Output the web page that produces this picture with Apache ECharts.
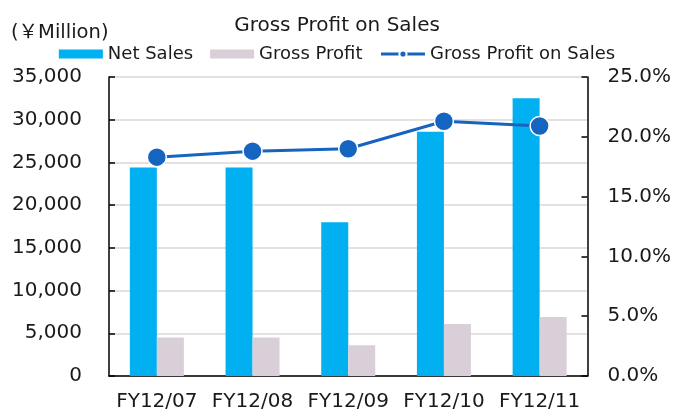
<!DOCTYPE html>
<html>
<head>
<meta charset="utf-8">
<script src="https://cdn.jsdelivr.net/npm/echarts@6/dist/echarts.min.js"></script>
<style>
html,body{margin:0;padding:0;background:#fff;}
#chart{width:674px;height:412px;}
</style>
</head>
<body>
<div id="chart"></div>
<script>
var categories = ['FY12/07', 'FY12/08', 'FY12/09', 'FY12/10', 'FY12/11'];
var netSales = [24400, 24400, 18000, 28600, 32500];
var grossProfit = [4500, 4500, 3600, 6100, 6900];
var grossProfitRatio = [18.3, 18.8, 19.0, 21.3, 20.9];

var FONT = "'DejaVu Sans', 'Noto Sans CJK JP', sans-serif";
var TXT = '#1a1a1a';

var chart = echarts.init(document.getElementById('chart'), null, {renderer: 'canvas'});
chart.setOption({
  animation: false,
  backgroundColor: '#fff',
  textStyle: {fontFamily: FONT},
  title: {
    text: 'Gross Profit on Sales',
    left: 'center',
    top: 16,
    padding: 0,
    textStyle: {fontFamily: FONT, fontSize: 20, fontWeight: 'normal', color: TXT}
  },
  graphic: [{
    type: 'text',
    left: 11,
    top: 23,
    style: {text: '(￥Million)', font: '19.5px ' + FONT, fill: TXT}
  }],
  legend: {
    top: 45,
    left: 'center',
    padding: 0,
    itemGap: 17,
    itemWidth: 44,
    itemHeight: 9,
    textStyle: {fontFamily: FONT, fontSize: 18, color: TXT},
    lineStyle: {width: 3},
    data: [
      {name: 'Net Sales', icon: 'rect'},
      {name: 'Gross Profit', icon: 'rect'},
      {name: 'Gross Profit on Sales'}
    ]
  },
  grid: {left: 109, right: 86, top: 77, bottom: 34, containLabel: false},
  xAxis: {
    type: 'category',
    data: categories,
    axisLine: {lineStyle: {color: '#000', width: 1.5}},
    axisTick: {inside: true, length: 9, lineStyle: {color: '#000', width: 1.5}},
    axisLabel: {interval: 0, hideOverlap: false, margin: 16, fontFamily: FONT, fontSize: 20, color: TXT}
  },
  yAxis: [{
    type: 'value',
    min: 0, max: 35000, interval: 5000,
    axisLine: {show: true, lineStyle: {color: '#000', width: 1.5}},
    axisTick: {show: true, inside: true, length: 6, lineStyle: {color: '#000', width: 1.5}},
    axisLabel: {margin: 27, fontFamily: FONT, fontSize: 20, color: TXT,
      formatter: function (v) { return v.toLocaleString('en-US'); }},
    splitLine: {show: true, lineStyle: {color: '#d9d9d9', width: 1.5}}
  }, {
    type: 'value',
    min: 0, max: 25, interval: 5,
    position: 'right',
    axisLine: {show: true, lineStyle: {color: '#000', width: 1.5}},
    axisTick: {show: true, inside: true, length: 6, lineStyle: {color: '#000', width: 1.5}},
    axisLabel: {margin: 20, fontFamily: FONT, fontSize: 20, color: TXT,
      formatter: function (v) { return v.toFixed(1) + '%'; }},
    splitLine: {show: false}
  }],
  series: [{
    name: 'Net Sales',
    type: 'bar',
    data: netSales,
    barWidth: 27,
    barGap: '0%',
    itemStyle: {color: '#00B0F0'}
  }, {
    name: 'Gross Profit',
    type: 'bar',
    data: grossProfit,
    barWidth: 27,
    barGap: '0%',
    itemStyle: {color: '#D8CFD9'}
  }, {
    name: 'Gross Profit on Sales',
    type: 'line',
    yAxisIndex: 1,
    data: grossProfitRatio,
    symbol: 'circle',
    symbolSize: 19,
    lineStyle: {color: '#1565C0', width: 3},
    itemStyle: {color: '#1565C0', borderColor: '#fff', borderWidth: 1.5}
  }]
});
</script>
</body>
</html>
